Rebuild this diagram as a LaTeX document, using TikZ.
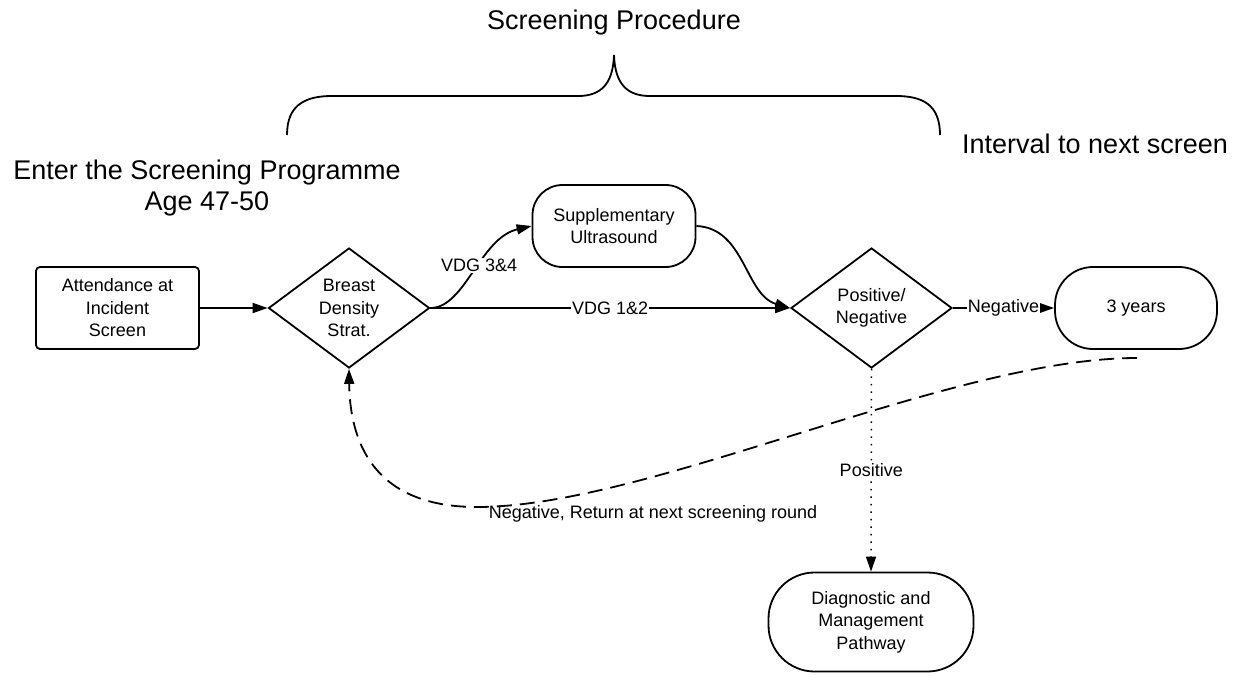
\documentclass[tikz,border=0pt]{standalone}
\usepackage{fontspec}
\setmainfont{Liberation Sans}
\usetikzlibrary{shapes.geometric,arrows.meta}
\tikzset{
  conn/.style={line width=1.8pt, -{Triangle[length=15pt,width=10pt]}},
  lbl/.style={font=\fontsize{18}{22.5}\selectfont, align=center, inner sep=1pt},
  wlbl/.style={lbl, fill=white},
  head/.style={font=\fontsize{27}{31}\selectfont, inner sep=0pt, align=center},
  boxA/.style={draw, line width=1.8pt, rectangle, rounded corners=4pt, minimum width=163pt, minimum height=82pt, lbl},
  decis/.style={draw, line width=1.8pt, diamond, aspect=1.34, minimum width=161pt, minimum height=120pt, inner sep=0pt, lbl},
  term/.style={draw, line width=1.8pt, rectangle, lbl}
}
\begin{document}
\begin{tikzpicture}[x=1pt,y=-1pt]
\useasboundingbox (0,0) rectangle (1236,675);
% headers
\node[head] (sp) at (614,23) {Screening Procedure};
\node[head] (iv) at (1095,144) {Interval to next screen};
\node[head] (en) at (207,188) {Enter the Screening Programme\\Age 47-50};
% brace
\draw[line width=1.8pt] (287,135) .. controls (287,105) and (305,96) .. (332,96) -- (578,96)
  .. controls (600,96) and (613,85) .. (614,55)
  .. controls (615,85) and (628,96) .. (650,96) -- (896,96)
  .. controls (923,96) and (940,105) .. (940,135);
% nodes
\node[boxA] (att) at (117.5,308) {Attendance at\\Incident\\Screen};
\node[decis] (bd) at (349,308) {Breast\\Density\\Strat.};
\node[term, rounded corners=30pt, minimum width=163pt, minimum height=82pt] (sup) at (614,226) {Supplementary\\Ultrasound};
\node[decis] (pn) at (871.5,308) {Positive/\\Negative};
\node[term, rounded corners=38pt, minimum width=162pt, minimum height=82pt] (yrs) at (1136,308) {3 years};
\node[term, rounded corners=46pt, minimum width=205pt, minimum height=99pt] (dia) at (871,622) {Diagnostic and\\Management\\Pathway};
% connectors
\draw[conn] (att.east) -- (bd.west);
\draw[conn] (bd.east) -- node[wlbl] {VDG 1\&2} (pn.west);
\draw[conn] (bd.east) .. controls (465,308) and (480,238) .. node[wlbl, pos=0.55] {VDG 3\&4} (sup.west);
\draw[conn] (sup.east) .. controls (745,228) and (745,295) .. (pn.west);
\draw[conn] (pn.east) -- node[wlbl, inner sep=0.5pt] {Negative} (yrs.west);
\draw[conn, dash pattern=on 1.5pt off 6pt, line width=1.5pt] (pn.south) -- node[wlbl, pos=0.5] {Positive} (dia.north);
\coordinate (ret) at (1137,358);
\coordinate (low) at (477,507);
\draw[conn, dash pattern=on 15pt off 8pt] (ret) .. controls (950,358) and (650,507) .. (low)
  .. controls (380,507) and (350,450) .. (bd.south);
\node[lbl] (neglbl) at (653,514) {Negative, Return at next screening round};
\end{tikzpicture}
\end{document}
